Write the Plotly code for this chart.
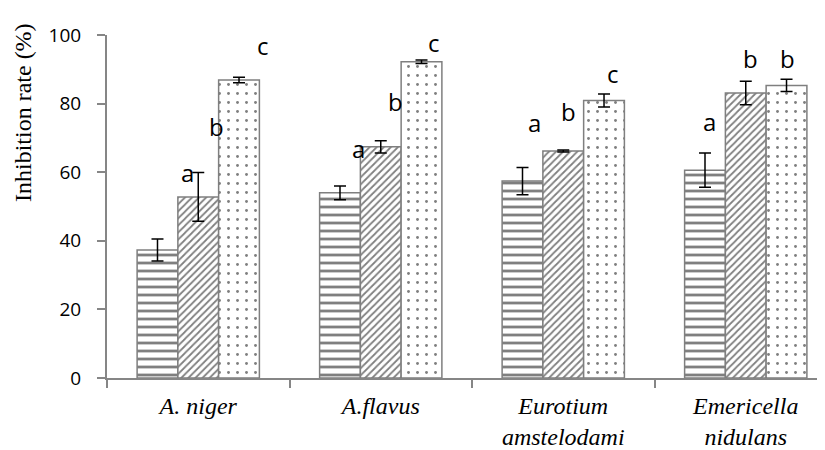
import plotly.graph_objects as go

categories = ["<i>A. niger</i>", "<i>A.flavus</i>", "<i>Eurotium</i><br><i>amstelodami</i>",
              "<i>Emericella</i><br><i>nidulans</i>"]
series1 = [37.3, 54.0, 57.4, 60.6]
err1 = [3.2, 2.0, 4.0, 5.0]
series2 = [52.8, 67.4, 66.2, 83.1]
err2 = [7.1, 1.8, 0.3, 3.4]
series3 = [86.9, 92.2, 80.9, 85.3]
err3 = [0.8, 0.5, 1.9, 1.8]

letters = ["a", "b", "c", "a", "b", "c", "a", "b", "c", "a", "b", "b"]
letter_y = [60, 73.4, 96.9, 67, 80.5, 97.8, 74.4, 77.6, 88.8, 74.9, 93.2, 93.2]
letter_cat = [0, 0, 0, 1, 1, 1, 2, 2, 2, 3, 3, 3]
letter_dx = [-0.06, 0.10, 0.356, -0.123, 0.08, 0.29, -0.16, 0.03, 0.27, -0.2, 0.025, 0.23]

yticks = [0, 20, 40, 60, 80, 100]

outline = dict(color="#7f7f7f", width=1.5)
fig = go.Figure()
for vals, errs, shape, size, sol in [(series1, err1, "-", 8, 0.35),
                                      (series2, err2, "/", 5, 0.35),
                                      (series3, err3, ".", 9, 0.08)]:
    fig.add_trace(go.Bar(
        x=categories, y=vals,
        marker=dict(color="white", line=outline,
                    pattern=dict(shape=shape, fgcolor="black", bgcolor="white",
                                 size=size, solidity=sol)),
        error_y=dict(type="data", array=errs, color="black", thickness=1.5, width=6),
        showlegend=False,
    ))

for t, yv, c, dx in zip(letters, letter_y, letter_cat, letter_dx):
    fig.add_annotation(x=c + dx, y=yv, text=t, showarrow=False, xref="x", yref="y",
                       font=dict(family="Open Sans", size=24, color="black"))

fig.add_annotation(x=(23 - 107) / 726, y=(378 - 113) / 343, xref="paper", yref="paper",
                   xanchor="center", yanchor="middle",
                   text="Inhibition rate (%)", textangle=-90, showarrow=False,
                   font=dict(family="Liberation Serif", size=24, color="black"))

fig.update_layout(
    width=825, height=450, barmode="group", bargap=0.33, bargroupgap=0,
    paper_bgcolor="white", plot_bgcolor="white",
    margin=dict(l=99, r=0, t=27, b=80),
)
fig.update_xaxes(
    type="category", range=[-0.5, 3.478],
    showline=True, linecolor="#868686", linewidth=2,
    ticks="outside", tickson="boundaries", ticklen=8, tickcolor="#868686", tickwidth=2,
    ticklabelstandoff=5, showgrid=False, zeroline=False,
    tickfont=dict(family="Liberation Serif", size=24, color="black"),
)
fig.update_yaxes(
    range=[0, 100], tickvals=yticks, showline=True, linecolor="#868686", linewidth=2,
    ticks="outside", ticklen=8, tickcolor="#868686", tickwidth=2,
    showgrid=False, zeroline=False, ticklabelstandoff=12,
    tickfont=dict(family="Open Sans", size=19, color="black"),
)
fig.write_html("out.html")
